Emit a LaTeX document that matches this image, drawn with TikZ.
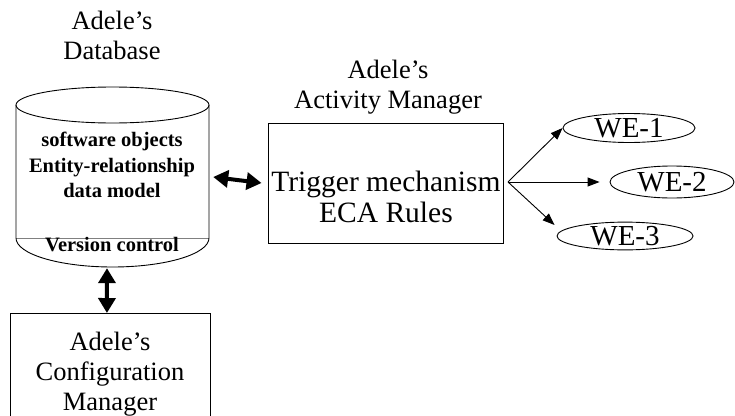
\documentclass[tikz,border=0pt]{standalone}
\usepackage{fontspec}
\setmainfont{Liberation Serif}
\usetikzlibrary{arrows.meta,shapes.geometric}
\tikzset{
  lbl/.style={align=center,inner sep=0pt,font=\fontsize{26.5}{30}\selectfont},
  bold/.style={align=center,inner sep=0pt,font=\fontsize{20.5}{25.5}\selectfont\bfseries},
  boxed/.style={draw,line width=0.9pt,inner sep=0pt},
  weell/.style={draw,ellipse,line width=0.9pt,inner sep=0pt,font=\fontsize{29}{30}\selectfont},
  dbl/.style={line width=4pt,{Triangle[length=15pt,width=17pt]}-{Triangle[length=15pt,width=17pt]}},
  sarr/.style={line width=0.9pt,-{Triangle[length=12pt,width=9pt]}}
}
\begin{document}
\begin{tikzpicture}[x=1pt,y=-1pt]
\useasboundingbox (0,0) rectangle (735,415);
% cylinder (database)
\draw[gray,line width=0.6pt] (16,238) -- (209,238);
\draw[line width=0.9pt] (16,105) -- (16,238) arc[start angle=180,end angle=360,x radius=96.5,y radius=-29] -- (209,105);
\draw[line width=0.9pt] (112.5,105) ellipse[x radius=96.5,y radius=18];
\node[minimum width=193,minimum height=180,inner sep=0pt] (db) at (112.5,177) {};
\node[lbl] (dbt) at (112,35) {Adele’s\\Database};
\node[bold] (dbin) at (112,165) {software objects\\Entity-relationship\\data model};
\node[bold] (vc) at (112,245) {Version control};
% activity manager
\node[lbl] (amt) at (388,87.5) {Adele’s\\Activity Manager};
\node[boxed,minimum width=235,minimum height=120] (am) at (385.5,183) {};
\node[align=center,inner sep=0pt,font=\fontsize{29.5}{31}\selectfont] (trig) at (386,197) {Trigger mechanism\\ECA Rules};
% configuration manager
\node[boxed,minimum width=200,minimum height=130,anchor=north west] (cm) at (10,313) {};
\node[lbl] (cmt) at (110,374) {Adele’s\\Configuration\\Manager};
% WE ellipses
\node[weell,minimum width=132,minimum height=29] (we1) at (629,128) {WE-1};
\node[weell,minimum width=124,minimum height=32] (we2) at (672,182) {WE-2};
\node[weell,minimum width=136,minimum height=26] (we3) at (625,236) {WE-3};
\coordinate (fork) at (508,182);
% connectors
\draw[dbl] ([xshift=4pt]db.east) -- ([xshift=-6pt]am.west);
\draw[dbl] ([xshift=-5.5pt,yshift=-1pt]db.south) -- ([xshift=-3.5pt,yshift=0pt]cm.north);
\draw[sarr] (fork) -- (we1.west);
\draw[sarr,shorten >=10pt] (fork) -- (we2.west);
\draw[sarr] (fork) -- ([yshift=11pt,xshift=-2pt]we3.west);
\end{tikzpicture}
\end{document}
